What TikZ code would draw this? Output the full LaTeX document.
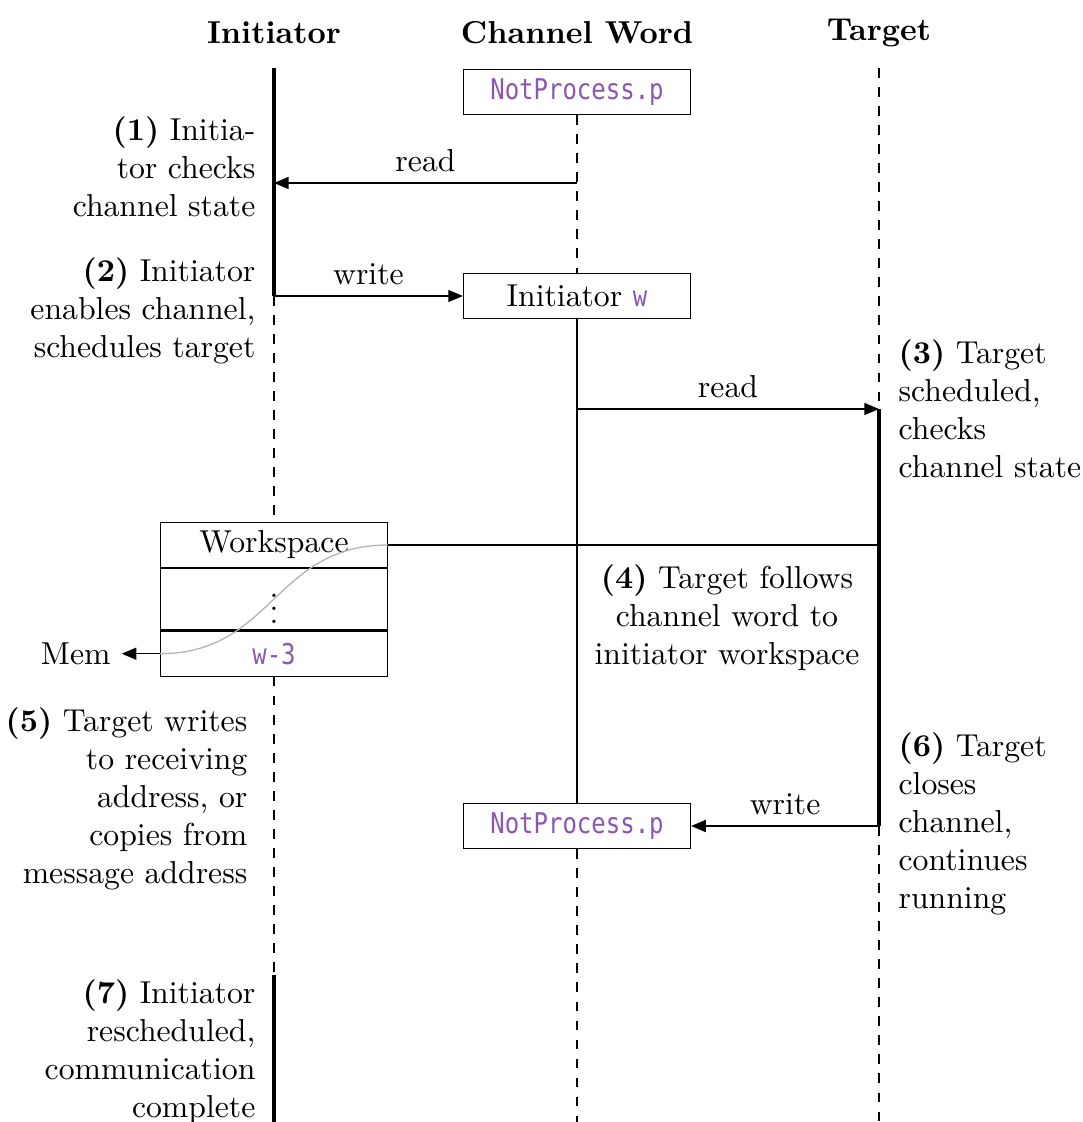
\documentclass[tikz,border=0pt]{standalone}
\usepackage{fontspec}
\setmonofont[Scale=0.9, FakeStretch=0.84]{DejaVu Sans Mono}
\usetikzlibrary{arrows.meta}
\usetikzlibrary{positioning}

\definecolor{codepurple}{RGB}{137,87,178}
\newcommand{\cw}[1]{{\color{codepurple}\ttfamily #1}}

\begin{document}
\begin{tikzpicture}[x=0.01108cm, y=-0.01108cm, line/.style={>={Triangle[length=4.6pt, width=3.8pt]}},
	head/.style={font=\bfseries},
	wordbox/.style={draw, minimum width=2.515cm, minimum height=0.5cm, inner sep=0pt},
	life/.style={dashed},
	active/.style={line width=1.2pt},
	noteleft/.style={align=right, inner sep=0pt, anchor=north east},
	noteright/.style={align=left, inner sep=0pt, anchor=north west}]

	\useasboundingbox (0,0) rectangle (1083,1122);

	% column heads
	\node[head] (hinit) at (274,33) {Initiator};
	\node[head] (hchan) at (577,33) {Channel Word};
	\node[head] (htgt) at (879,33) {Target};

	% channel word states
	\node[wordbox] (np1) at (577,92) {\cw{NotProcess.p}};
	\node[wordbox] (iw) at (577,296) {Initiator \cw{w}};
	\node[wordbox] (np2) at (577,826) {\cw{NotProcess.p}};

	% workspace
	\node[wordbox] (ws) at (274,545) {Workspace};
	\node[wordbox, minimum height=0.676cm, below=0pt of ws] (wsdots) {$\vdots$};
	\node[wordbox, below=0pt of wsdots] (wsw) {\cw{w-3}};
	\node[left=12pt of wsw] (mem) {Mem};

	% lifeline points
	\coordinate (i0) at (274,68);
	\coordinate (i1) at (274,183);
	\coordinate (i2) at (274,296);
	\coordinate (i3) at (274,975);
	\coordinate (i4) at (274,1122);
	\coordinate (c1) at (577,183);
	\coordinate (c2) at (577,409);
	\coordinate (c3) at (577,1122);
	\coordinate (t0) at (879,68);
	\coordinate (t1) at (879,409);
	\coordinate (t2) at (ws.east -| t0);
	\coordinate (t3) at (879,826);
	\coordinate (t4) at (879,1122);

	% initiator
	\draw[active] (i0) -- (i2);
	\draw[life] (i2) -- (ws.north);
	\draw[life] (wsw.south) -- (i3);
	\draw[active] (i3) -- (i4);

	% channel word
	\draw[life] (np1.south) -- (iw.north);
	\draw (iw.south) -- (np2.north);
	\draw[life] (np2.south) -- (c3);

	% target
	\draw[life] (t0) -- (t1);
	\draw[active] (t1) -- (t3);
	\draw[life] (t3) -- (t4);

	% messages
	\draw[->, line] (c1) -- node[above] {read} (i1);
	\draw[->, line] (i2) -- node[above] {write} (iw.west);
	\draw[->, line] (c2) -- node[above] {read} (t1);
	\draw (ws.east) -- (t2);
	\draw[->, line] (t3) -- node[above] {write} (np2.east);
	\draw[gray!60] (ws.east) .. controls +(-114,0) and +(113,0) .. (wsw.west);
	\draw[->, line] (wsw.west) -- (mem);

	% steps
	\node[noteleft] (s1) at (256,116) {\textbf{(1)} Initia-\\tor checks\\channel state};
	\node[noteleft] (s2) at (256,257) {\textbf{(2)} Initiator\\enables channel,\\schedules target};
	\node[noteright] (s3) at (898,339) {\textbf{(3)} Target\\scheduled,\\checks\\channel state};
	\node[align=center, inner sep=0pt, anchor=north] (s4) at (727,564) {\textbf{(4)} Target follows\\channel word to\\initiator workspace};
	\node[noteleft] (s5) at (248,707) {\textbf{(5)} Target writes\\to receiving\\address, or\\copies from\\message address};
	\node[noteright] (s6) at (898,732) {\textbf{(6)} Target\\closes\\channel,\\continues\\running};
	\node[noteleft] (s7) at (256,979) {\textbf{(7)} Initiator\\rescheduled,\\communication\\complete};

\end{tikzpicture}
\end{document}
